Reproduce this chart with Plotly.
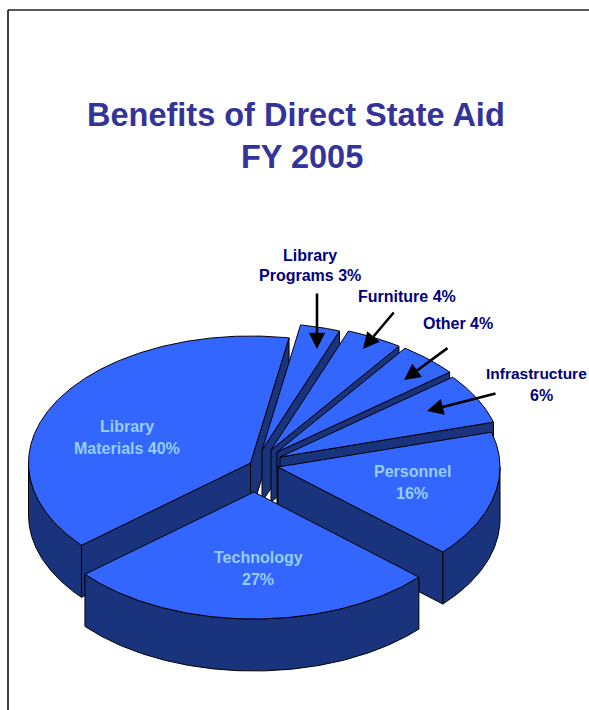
import numpy as np
import plotly.graph_objects as go

# ---------- data ----------
slice_names = ["Library Materials", "Library Programs", "Furniture", "Other",
               "Infrastructure", "Personnel", "Technology"]
shown_percent = [40, 3, 4, 4, 6, 16, 27]
drawn_share = [39.0, 2.9, 4.1, 4.4, 6.4, 16.1, 27.1]

# ---------- pie geometry ----------
LAST_EDGE_DEG = 10  # clockwise edge of Library Materials, from 12 o'clock
RX, RY, DEPTH = 222, 127, 52
# point of each slice after explosion (pixels of the 589x710 page)
APEX = [(250.5, 463), (262, 450), (271, 450), (277, 452), (280, 457), (278, 467), (254, 492)]
TOP, SIDE, EDGE = "#3366ff", "#1a337d", "#000000"

fig = go.Figure()


def poly(xs, ys, color, name):
    fig.add_trace(go.Scatter(x=list(xs) + [xs[0]], y=list(ys) + [ys[0]], mode="lines",
                             fill="toself", fillcolor=color, name=name,
                             line=dict(color=EDGE, width=1), hoverinfo="name",
                             showlegend=False))


def rim(a, b, cx, cy):
    t = np.radians(np.linspace(a, b, max(3, int(abs(b - a) * 2))))
    return cx + RX * np.sin(t), cy - RY * np.cos(t)


def radial_face(ang, cx, cy, name):
    x, y = rim(ang, ang, cx, cy)
    xs = [cx, x[0], x[0], cx]
    ys = [cy, y[0], y[0] + DEPTH, cy + DEPTH]
    poly(xs, ys, SIDE, name)


sweeps = 360 * np.array(drawn_share) / sum(drawn_share)
start = LAST_EDGE_DEG + 360 - sweeps[0]
for name, sweep, (cx, cy) in zip(slice_names, sweeps, APEX):
    end = start + sweep
    # radial faces turned to the viewer
    if 90 < ((end + 90) % 360) < 270:
        radial_face(end, cx, cy, name)
    if 90 < ((start - 90) % 360) < 270:
        radial_face(start, cx, cy, name)
    # outer wall: only the lower half of the ellipse
    wa, wb = max(start, 90), min(end, 270)
    if wb > wa:
        x, y = rim(wa, wb, cx, cy)
        poly(np.r_[x, x[::-1]], np.r_[y, y[::-1] + DEPTH], SIDE, name)
    # top face
    x, y = rim(start, end, cx, cy)
    poly(np.r_[cx, x], np.r_[cy, y], TOP, name)
    start = end if end < 360 else end - 360

FONT = "Liberation Sans, Arial, sans-serif"
NAVY, PALE, TITLE = "#000080", "#99ccff", "#333399"


def text(x, y, s, color=NAVY, size=16):
    fig.add_annotation(x=x, y=y, text=f"<b>{s}</b>", showarrow=False, xanchor="center",
                       yanchor="middle", font=dict(family=FONT, size=size, color=color))


def arrow(x0, y0, x1, y1):
    fig.add_annotation(x=x1, y=y1, ax=x0, ay=y0, axref="x", ayref="y", xref="x", yref="y",
                       text="", showarrow=True, arrowhead=2, arrowsize=1.25, arrowwidth=2.6,
                       arrowcolor="#000000", standoff=0)


text(296, 115, "Benefits of Direct State Aid", TITLE, 32.5)
text(301.5, 157, "FY 2005", TITLE, 32.5)

text(127, 426, "Library", PALE)
text(127, 448, f"Materials {shown_percent[0]}%", PALE)
text(258, 557, "Technology", PALE)
text(258, 579, f"{shown_percent[6]}%", PALE)
text(412, 471, "Personnel", PALE)
text(412, 493, f"{shown_percent[5]}%", PALE)

text(310, 255, "Library")
text(310, 275, f"Programs {shown_percent[1]}%")
text(407, 296, f"Furniture {shown_percent[2]}%")
text(458, 323, f"Other {shown_percent[3]}%")
fig.add_annotation(x=484, y=373, text="<b>Infrastructure</b>", showarrow=False, xanchor="left",
                   yanchor="middle", font=dict(family=FONT, size=15.5, color=NAVY))
text(541, 395, f"{shown_percent[4]}%")

arrow(317, 292, 317, 349)
arrow(395, 311, 363, 349)
arrow(449, 347, 404, 380)
arrow(497, 393, 427, 411)

# page frame (top and left rules)
fig.add_shape(type="line", x0=8, x1=589, y0=10, y1=10, line=dict(color="#222222", width=1.5))
fig.add_shape(type="line", x0=8, x1=8, y0=10, y1=710, line=dict(color="#000000", width=1.5))

fig.update_xaxes(range=[0, 589], visible=False, fixedrange=True)
fig.update_yaxes(range=[710, 0], visible=False, fixedrange=True)
fig.update_layout(width=589, height=710, margin=dict(l=0, r=0, t=0, b=0),
                  paper_bgcolor="#ffffff", plot_bgcolor="#ffffff", showlegend=False)

fig.write_html("out.html", config={"displayModeBar": False},
               post_script="document.body.style.margin='0';document.body.style.overflow='hidden';")
